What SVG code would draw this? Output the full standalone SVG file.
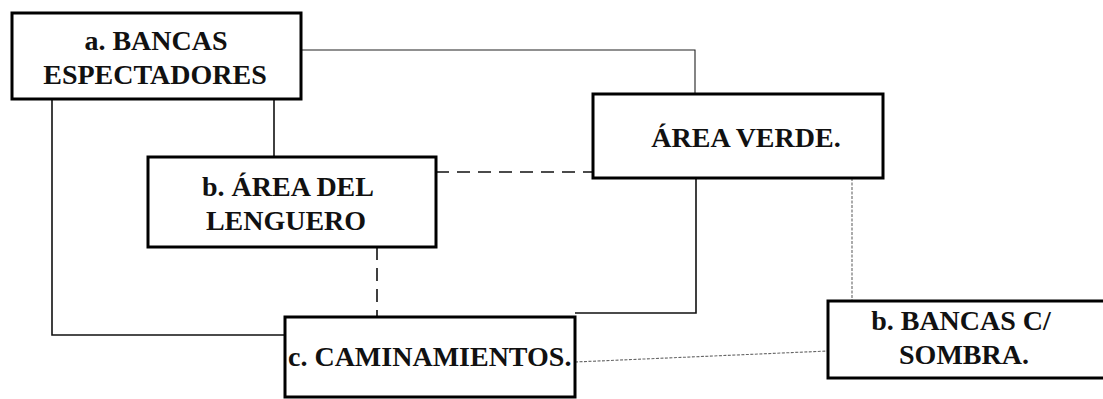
<svg xmlns="http://www.w3.org/2000/svg" width="1103" height="399" viewBox="0 0 1103 399">
<style>
.box{fill:#fff;stroke:#000;stroke-width:3}
.t{font-family:"Liberation Serif","Times New Roman",serif;font-weight:bold;font-size:28px;fill:#111}
.c{fill:none;stroke:#111;stroke-width:1.6}
.thin{fill:none;stroke:#222;stroke-width:1.1}
.dash{fill:none;stroke:#111;stroke-width:1.6;stroke-dasharray:13 8}
.dot{fill:none;stroke:#666;stroke-width:1.1;stroke-dasharray:3 1.5}
</style>
<rect width="1103" height="399" fill="#fff"/>
<g id="connectors">
<path class="thin" d="M301,50 H695 V94"/>
<path class="c" d="M274,99 V157"/>
<path class="c" d="M52,99 V335 H285"/>
<path class="dash" d="M436,172 H593"/>
<path class="dash" d="M377,247 V318"/>
<path class="c" d="M696,178 V313 H575"/>
<path class="dot" d="M852,178 V301"/>
<path class="dot" d="M575,362 L828,351"/>
</g>
<g id="node-a">
<rect class="box" x="12" y="13" width="289" height="86"/>
<text class="t" x="156" y="50" text-anchor="middle">a. BANCAS</text>
<text class="t" x="155" y="84" text-anchor="middle">ESPECTADORES</text>
</g>
<g id="node-b">
<rect class="box" x="148" y="157" width="288" height="90"/>
<text class="t" x="288" y="196" text-anchor="middle">b. ÁREA DEL</text>
<text class="t" x="286" y="230" text-anchor="middle">LENGUERO</text>
</g>
<g id="node-verde">
<rect class="box" x="593" y="94" width="290" height="84"/>
<text class="t" x="746" y="147" text-anchor="middle">ÁREA VERDE.</text>
</g>
<g id="node-c">
<rect class="box" x="285" y="317" width="290" height="80"/>
<text class="t" x="288" y="366">c. CAMINAMIENTOS.</text>
</g>
<g id="node-bancas">
<rect class="box" x="828" y="301" width="290" height="77"/>
<text class="t" x="961" y="330" text-anchor="middle">b. BANCAS C/</text>
<text class="t" x="964" y="364" text-anchor="middle">SOMBRA.</text>
</g>
</svg>
